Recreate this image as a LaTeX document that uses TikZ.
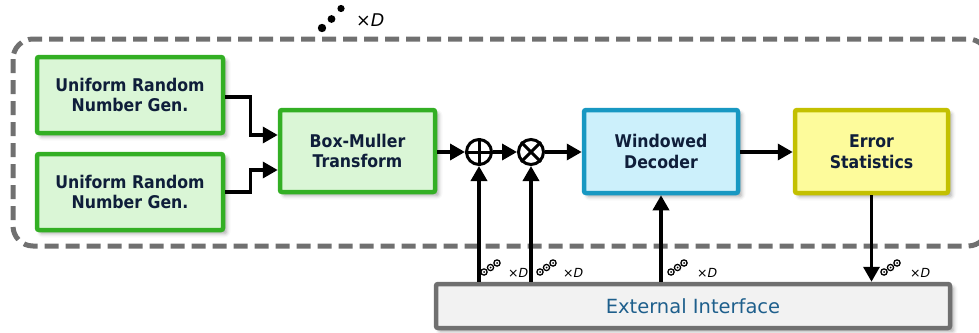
\documentclass[tikz,border=0pt]{standalone}
\usepackage{fontspec}
\setmainfont{DejaVu Sans}
\newfontfamily\boxfont{DejaVu Sans Condensed}[BoldFont={DejaVu Sans Condensed Bold}]
\usetikzlibrary{arrows.meta,shadows.blur}

\definecolor{grnline}{HTML}{33AF24}
\definecolor{grnfill}{HTML}{DAF6D6}
\definecolor{bluline}{HTML}{1898C2}
\definecolor{blufill}{HTML}{CCF0FB}
\definecolor{yelline}{HTML}{C3C000}
\definecolor{yelfill}{HTML}{FDFB9B}
\definecolor{gryline}{HTML}{707070}
\definecolor{gryfill}{HTML}{F2F2F2}
\definecolor{txtnavy}{HTML}{0F1E3A}
\definecolor{txtblue}{HTML}{1E5F8C}

\tikzset{
  block/.style={draw, line width=4.5pt, rectangle, rounded corners=2pt, align=center, inner sep=0pt,
    text=txtnavy, font=\boxfont\bfseries\fontsize{17.5}{20.5}\selectfont,
    blur shadow={shadow xshift=3.5pt, shadow yshift=-3.5pt, shadow blur radius=4pt, shadow opacity=35}},
  greenblock/.style={block, draw=grnline, fill=grnfill},
  blueblock/.style={block, draw=bluline, fill=blufill},
  yellowblock/.style={block, draw=yelline, fill=yelfill},
  ifaceblock/.style={draw=gryline, fill=gryfill, line width=4.5pt, rectangle, rounded corners=2pt, inner sep=0pt,
    text=txtblue, font=\fontsize{19.5}{21}\selectfont,
    blur shadow={shadow xshift=3.5pt, shadow yshift=-3.5pt, shadow blur radius=4pt, shadow opacity=35}},
  opnode/.style={draw, circle, line width=3pt, minimum size=25pt, inner sep=0pt},
  arr/.style={line width=3.5pt, -{Triangle[length=15pt,width=16pt]}},
  container/.style={draw=gryline, line width=5pt, dash pattern=on 14pt off 7pt, rounded corners=20pt},
  timesD/.style={anchor=base west, inner sep=0pt, font=\fontsize{12.5}{12.5}\selectfont},
  busmark/.pic={
    \foreach \dx/\dy in {0/0, 6.5/4.5, 13/9}{
      \draw[line width=1.3pt, fill=white] (\dx pt,\dy pt) circle (3.1pt);
      \fill (\dx pt,\dy pt) circle (1pt);
    }
  }
}

\begin{document}
\begin{tikzpicture}[x=1pt, y=-1pt]
  \useasboundingbox (0,0) rectangle (979,332);
  \clip (0,0) rectangle (979,332);

  % replicated region (dashed outline)
  \draw[container] (13,39) rectangle (988,246);

  % replication marker above the region
  \fill (322,28) circle (4.2pt);
  \fill (331.5,19) circle (3.9pt);
  \fill (341,8.5) circle (3.6pt);
  \node[anchor=base west, inner sep=0pt, font=\fontsize{17.5}{17.5}\selectfont] (repD) at (356,26) {×\textit{D}};

  % processing blocks
  \node[greenblock, minimum width=186pt, minimum height=76pt] (u1) at (130,95) {Uniform Random\\Number Gen.};
  \node[greenblock, minimum width=186pt, minimum height=76pt] (u2) at (130,192) {Uniform Random\\Number Gen.};
  \node[greenblock, minimum width=155pt, minimum height=82pt] (bm) at (357.5,151) {Box-Muller\\Transform};
  \node[opnode] (plus) at (479,152) {};
  \node[opnode] (times) at (531,152) {};
  \node[blueblock, minimum width=154pt, minimum height=83pt] (wd) at (661,151.5) {Windowed\\Decoder};
  \node[yellowblock, minimum width=153pt, minimum height=83pt] (es) at (871.5,151.5) {Error\\Statistics};
  \node[ifaceblock, minimum width=514pt, minimum height=44pt] (ei) at (693,306) {External Interface};

  % operator symbols
  \draw[line width=3pt] (plus.north) -- (plus.south) (plus.west) -- (plus.east);
  \draw[line width=3pt] (times.north west) -- (times.south east) (times.north east) -- (times.south west);

  % data path
  \draw[arr] ([yshift=-2pt]u1.east) -- ++(25,0) |- ([yshift=16pt]bm.west);
  \draw[arr] (u2.east) -- ++(25,0) |- ([yshift=-19pt]bm.west);
  \draw[arr] (bm.east |- plus.west) -- (plus.west);
  \draw[arr] (plus.east) -- (times.west);
  \draw[arr] (times.east) -- (times.east -| wd.west);
  \draw[arr] (wd.east |- 0,152) -- (es.west |- 0,152);

  % links to the external interface
  \draw[arr] (plus |- ei.north) -- (plus.south);
  \draw[arr] (times |- ei.north) -- (times.south);
  \draw[arr] (wd |- ei.north) -- (wd.south);
  \draw[arr] (es.south) -- (es |- ei.north);

  % bus width markers
  \pic at (484,272) {busmark};
  \node[timesD] (d1) at (508,277) {×\textit{D}};
  \pic at (540,272) {busmark};
  \node[timesD] (d2) at (563,277) {×\textit{D}};
  \pic at (671,272) {busmark};
  \node[timesD] (d3) at (697,277) {×\textit{D}};
  \pic at (884,272) {busmark};
  \node[timesD] (d4) at (910,277) {×\textit{D}};
\end{tikzpicture}
\end{document}
